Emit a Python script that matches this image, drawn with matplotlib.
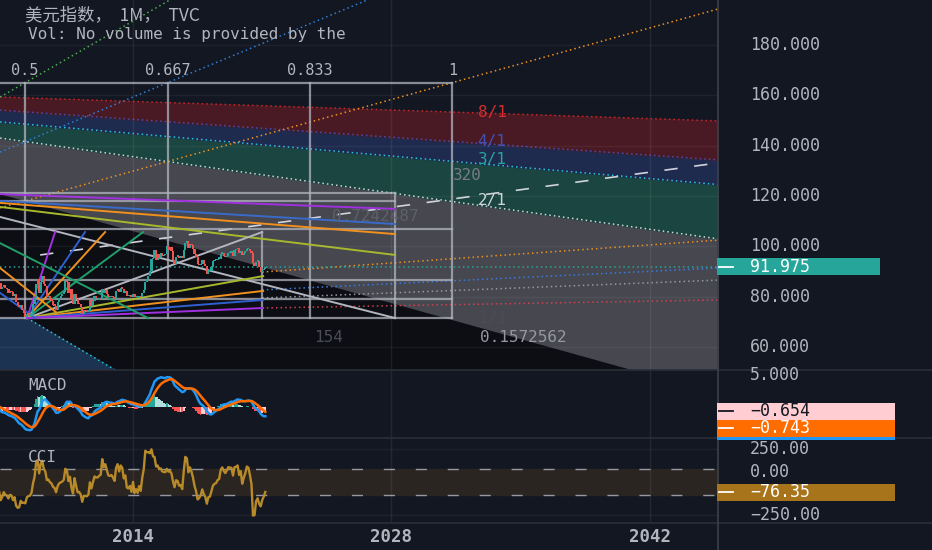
import numpy as np
import pandas as pd
import matplotlib
matplotlib.use('Agg')
import matplotlib.pyplot as plt
from matplotlib.patches import Rectangle
from matplotlib.lines import Line2D
from matplotlib.transforms import blended_transform_factory

# DXY monthly closes, Jan 2004 .. Mar 2021
dxy_close = [
    86.8, 88.0, 87.8, 89.9, 88.8, 88.9, 89.9, 89.2, 87.9, 85.4, 81.6, 80.9,   # 2004
    83.8, 82.3, 84.4, 84.7, 88.0, 89.6, 88.5, 87.6, 89.4, 89.9, 91.5, 91.2,   # 2005
    89.4, 90.7, 89.6, 86.5, 84.9, 85.4, 85.3, 85.1, 85.9, 85.3, 83.0, 83.7,   # 2006
    84.6, 83.5, 82.9, 81.5, 82.3, 81.9, 80.4, 80.9, 78.0, 76.7, 75.8, 76.7,   # 2007
    74.9, 73.6, 71.8, 73.2, 72.9, 72.4, 73.2, 77.1, 79.4, 85.0, 86.9, 81.3,   # 2008
    85.7, 88.4, 85.2, 84.2, 79.7, 80.2, 78.9, 78.4, 76.8, 76.5, 74.7, 77.9,   # 2009
    79.5, 80.3, 81.0, 81.8, 86.2, 85.9, 81.5, 83.1, 79.0, 77.0, 81.2, 79.0,   # 2010
    77.1, 76.9, 75.9, 73.0, 74.6, 74.3, 74.1, 74.2, 78.6, 76.2, 78.4, 80.2,   # 2011
    79.3, 78.8, 79.0, 78.9, 83.1, 81.6, 82.6, 81.2, 79.9, 79.9, 80.3, 79.8,   # 2012
    79.2, 82.1, 83.0, 81.9, 83.3, 83.2, 81.5, 82.1, 80.2, 80.2, 80.7, 80.0,   # 2013
    81.2, 79.7, 80.1, 79.5, 80.4, 79.8, 81.5, 82.8, 86.0, 87.0, 88.4, 90.3,   # 2014
    94.8, 95.3, 98.4, 94.6, 96.9, 95.5, 97.4, 96.0, 96.4, 97.0, 100.2, 98.7,  # 2015
    99.6, 98.2, 94.6, 93.1, 95.9, 96.1, 95.5, 96.0, 95.4, 98.5, 101.5, 102.2, # 2016
    99.5, 101.1, 100.4, 99.0, 97.0, 95.6, 92.9, 92.7, 93.1, 94.6, 93.1, 92.1, # 2017
    89.1, 90.6, 90.1, 91.8, 94.0, 94.5, 94.5, 95.1, 95.1, 97.1, 97.3, 96.2,   # 2018
    95.6, 96.2, 97.3, 97.5, 97.8, 96.1, 98.5, 98.9, 99.4, 97.4, 98.3, 96.4,   # 2019
    97.4, 98.1, 99.0, 99.0, 98.3, 97.4, 93.3, 92.1, 93.9, 94.0, 91.9, 89.9,   # 2020
    90.6, 90.9, 91.975,                                                       # 2021
]
last_price = 91.975
macd_tags = [-0.654, -0.743]
cci_tag = -76.35

price_ticks = [60, 80, 100, 120, 140, 160, 180]
year_ticks = [2014, 2028, 2042]
cci_ticks = [250, 0, -250]

# Gann fan (left year, right year) and prices at both ends
fan_x = [2006.8, 2045.7]
fan_8_1 = [159.4, 149.9]
fan_4_1 = [154.2, 134.4]
fan_3_1 = [149.5, 124.6]
fan_2_1 = [143.1, 103.0]
fan_1_1 = [121.2, 41.7]

# Gann box
box_years = [2008.15, 2015.9, 2023.6, 2031.3]
box_levels = ['0.5', '0.667', '0.833', '1']
box_hlines = [165.0, 106.9, 86.6, 79.1, 71.5]
box2_hlines = [121.2, 118.1]
box2_right = 2028.2

# fan lines from the upper left: colour -> (price at 2006.8, price at 2028.2)
left_fan = {'#a030e0': (120.8, 114.9), '#3a6bc8': (118.1, 108.9),
            '#f0901e': (117.3, 104.9), '#a8b82c': (115.7, 96.6),
            '#b2b5be': (111.7, 71.5)}
# fan lines from the 2008 low
low_pt = (2008.26, 71.5)
low_fan = [('#a030e0', 2009.78, 105.7), ('#2f5fd0', 2011.4, 105.7),
           ('#f0901e', 2012.49, 105.7), ('#1f9e6a', 2014.55, 105.7),
           ('#b2b5be', 2021.0, 105.7), ('#a8b82c', 2021.05, 88.2),
           ('#f0901e', 2021.05, 82.3), ('#2f5fd0', 2021.05, 78.7),
           ('#a030e0', 2021.05, 75.5)]
down_lines = [('#1f9e6a', (2006.8, 101.3), (2014.82, 71.5)),
              ('#f0901e', (2006.8, 91.4), (2009.89, 73.5)),
              ('#2f5fd0', (2006.8, 81.5), (2008.7, 71.5))]
rise_dotted = [('#4caf50', (2006.8, 159.4), (2016.0, 198.0)),
               ('#2f7fd8', (2006.8, 137.5), (2026.7, 198.0)),
               ('#f0901e', (2006.8, 115.3), (2045.7, 194.4))]
right_dotted = [('#f0901e', (2021.0, 89.8), (2045.7, 102.5)),
                ('#3a7be0', (2021.0, 82.7), (2045.7, 91.4)),
                ('#9598a1', (2021.0, 79.5), (2045.7, 86.6)),
                ('#d04050', (2021.0, 75.5), (2045.7, 78.7))]
dash_line = [(2008.97, 96.6), (2045.7, 133.2)]
blue_zone_x = [2006.8, 2008.26, 2013.03]
blue_zone_y = [71.5, 71.5, 50.9]

fan_labels = [('8/1', 153.4, '#d32f2f'), ('4/1', 141.9, '#3f51b5'),
              ('3/1', 134.4, '#26a69a'), ('2/1', 118.4, '#d1d4dc'),
              ('1/1', 71.5, '#4a4d57')]
misc_labels = [('320', 2032.1, 128.0, '#787b86'), ('0.7242487', 2027.1, 111.7, '#5d606b'),
               ('154', 2024.57, 63.6, '#4a4d57'), ('0.1572562', 2035.13, 63.6, '#9598a1')]

W, H = 932, 550
BG = '#131722'
MONO = 'DejaVu Sans Mono'
TXT = '#b2b5be'

fig = plt.figure(figsize=(W / 100, H / 100), dpi=100)
fig.patch.set_facecolor(BG)
ax = fig.add_axes([0, 180 / H, 718 / W, 370 / H])
ax_m = fig.add_axes([0, 112 / H, 718 / W, 68 / H])
ax_c = fig.add_axes([0, 27 / H, 718 / W, 85 / H])
XL = (2006.795, 2045.69)
for a in (ax, ax_m, ax_c):
    a.set_facecolor(BG)
    a.set_xlim(*XL)
    a.set_xticks([])
    a.set_yticks([])
    for s in a.spines.values():
        s.set_visible(False)
    for yr in year_ticks:
        a.axvline(yr, color='#ffffff', alpha=0.07, lw=1, zorder=4)
ax.set_ylim(50.855, 197.97)
ax_m.set_ylim(-4.6, 5.4)
ax_c.set_ylim(-311, 333)

# data prep
months = pd.date_range('2004-01-01', periods=len(dxy_close), freq='MS')
t = np.array(months.year + (months.month - 1) / 12.0)
close = pd.Series(dxy_close)
opn = close.shift(1).fillna(close.iloc[0])

# fan zones
ax.fill_between(fan_x, 0, fan_1_1, color='#0c0e13', zorder=0.5)
ax.fill_between(fan_x, fan_1_1, fan_2_1, color='#46474f', zorder=0.6)
ax.fill_between(fan_x, fan_2_1, fan_3_1, color='#1b4540', zorder=0.6)
ax.fill_between(fan_x, fan_3_1, fan_4_1, color='#1e2b4e', zorder=0.6)
ax.fill_between(fan_x, fan_4_1, fan_8_1, color='#4a1a24', zorder=0.6)
for ys, c in [(fan_2_1, '#d1d4dc'), (fan_3_1, '#26c6da'), (fan_4_1, '#3f51b5'), (fan_8_1, '#c62828')]:
    ax.plot(fan_x, ys, color=c, lw=1.1, ls=(0, (1, 2)), zorder=1)
ax.fill_between(blue_zone_x, 0, blue_zone_y, color='#1c3352', zorder=0.7)
ax.plot(blue_zone_x[1:], blue_zone_y[1:], color='#26c6da', lw=1.1, ls=(0, (1, 2)), zorder=1)

for v in price_ticks:
    ax.axhline(v, color='#ffffff', alpha=0.05, lw=1, zorder=4)

for c, p0, p1 in rise_dotted + right_dotted:
    ax.plot([p0[0], p1[0]], [p0[1], p1[1]], color=c, lw=1.1, ls=(0, (1, 2)), zorder=2)
ax.axhline(last_price, color='#26a69a', lw=1.1, ls=(0, (1, 2)), zorder=2)
ax.plot([dash_line[0][0], dash_line[1][0]], [dash_line[0][1], dash_line[1][1]],
        color='#d1d4dc', lw=1.2, ls=(0, (8, 10)), zorder=2)

# gann box
BOX = dict(color='#b2b5be', alpha=0.75, lw=1.6, zorder=3)
for x in box_years:
    ax.plot([x, x], [box_hlines[-1], box_hlines[0]], **BOX)
for y in box_hlines:
    ax.plot([fan_x[0], box_years[-1]], [y, y], **BOX)
for y in box2_hlines:
    ax.plot([fan_x[0], box2_right], [y, y], **BOX)
ax.plot([box2_right, box2_right], [box_hlines[-1], box2_hlines[0]], **BOX)
ax.plot([2021.0, 2021.0], [box_hlines[-1], 105.7], **BOX)
for x, lab in zip(box_years, box_levels):
    ax.text(x, 170.1, lab, color=TXT, fontsize=11, family=MONO, ha='center', va='center', zorder=6)

# fans
for c, (y0, y1) in left_fan.items():
    ax.plot([fan_x[0], box2_right], [y0, y1], color=c, lw=1.4, zorder=3)
for c, x1, y1 in low_fan:
    ax.plot([low_pt[0], x1], [low_pt[1], y1], color=c, lw=1.4, zorder=3)
for c, p0, p1 in down_lines:
    ax.plot([p0[0], p1[0]], [p0[1], p1[1]], color=c, lw=1.4, zorder=3)

# candles
up = close >= opn
ax.bar(t, np.maximum((close - opn).abs(), 0.5), bottom=np.minimum(close, opn), width=0.12,
       color=np.where(up, '#26a69a', '#ef5350'), zorder=5)

for lab, y, c in fan_labels:
    ax.text(2033.45, y, lab, color=c, fontsize=11.5, family=MONO, ha='center', va='center', zorder=6)
for lab, x, y, c in misc_labels:
    ax.text(x, y, lab, color=c, fontsize=11.5, family=MONO, ha='center', va='center', zorder=6)

ax.text(25 / 718, 1 - 15 / 370, '美元指数，  1M，  TVC', transform=ax.transAxes, color=TXT,
        fontsize=12.5, family=['Noto Sans CJK SC', MONO], va='center', zorder=7)
ax.text(28 / 718, 1 - 34 / 370, 'Vol: No volume is provided by the', transform=ax.transAxes,
        color=TXT, fontsize=11.5, family=MONO, va='center', zorder=7)

# MACD
ema12 = close.ewm(span=12, adjust=False).mean()
ema26 = close.ewm(span=26, adjust=False).mean()
macd = ema12 - ema26
signal = macd.ewm(span=9, adjust=False).mean()
hist = macd - signal
prev = hist.shift(1).fillna(0)
hcol = np.where(hist >= 0, np.where(hist > prev, '#26a69a', '#b2dfdb'),
                np.where(hist > prev, '#ffcdd2', '#ff5252'))
ax_m.bar(t, hist, width=1 / 12, color=hcol, zorder=2)
ax_m.plot(t, macd, color='#2196f3', lw=1.8, zorder=3)
ax_m.plot(t, signal, color='#ff6d00', lw=1.8, zorder=3)
ax_m.text(28 / 718, 1 - 15 / 68, 'MACD', transform=ax_m.transAxes, color=TXT,
          fontsize=11.5, family=MONO, va='center')

# CCI(20) on close
sma = close.rolling(20).mean()
mdev = close.rolling(20).apply(lambda v: np.mean(np.abs(v - v.mean())), raw=True)
cci = (close - sma) / (0.015 * mdev)
ax_c.fill_between(XL, -100, 100, color='#2a2521', zorder=1)
for lv in (100, -100):
    ax_c.axhline(lv, color='#9598a1', lw=1, ls=(0, (8, 15)), zorder=2)
for lv in (250, -250):
    ax_c.axhline(lv, color='#ffffff', alpha=0.05, lw=1)
ax_c.plot(t, cci, color='#b98a28', lw=1.7, zorder=3)
ax_c.text(28 / 718, 1 - 19 / 85, 'CCI', transform=ax_c.transAxes, color=TXT,
          fontsize=11.5, family=MONO, va='center')

# separators
for yy in (370, 438, 523):
    fig.add_artist(Line2D([0, 1], [1 - yy / H, 1 - yy / H], color='#2a2e39', lw=1.2))
fig.add_artist(Line2D([718 / W, 718 / W], [0, 1], color='#3b3f4a', lw=1.2))


def ypix(a, v):
    return a.transData.transform((XL[0], v))[1]


AX_FS = 12
for v in price_ticks:
    fig.text(750 / W, ypix(ax, v) / H, f'{v:.3f}', color=TXT, fontsize=AX_FS, family=MONO, va='center')
fig.text(750 / W, (ypix(ax_m, 5) - 2) / H, '5.000', color=TXT, fontsize=AX_FS, family=MONO, va='center')
for v in cci_ticks:
    lab = f'{v:.2f}'.replace('-', '−')
    yp = ypix(ax_c, v) + (10 if v == 0 else 0)
    fig.text(750 / W, yp / H, lab, color=TXT, fontsize=AX_FS, family=MONO, va='center')


def tag(a, v, text, fc, tc, dy=0, right=880, h=17):
    yp = ypix(a, v) + dy
    fig.add_artist(Rectangle((717 / W, (yp - h / 2) / H), (right - 717) / W, h / H,
                             transform=fig.transFigure, fc=fc, ec='none', zorder=8))
    fig.add_artist(Line2D([719 / W, 733 / W], [yp / H, yp / H], color=tc, lw=1.3, zorder=9))
    fig.text(750 / W, yp / H, text, color=tc, fontsize=AX_FS, family=MONO, va='center', zorder=9)


tag(ax, last_price, f'{last_price:.3f}', '#26a69a', '#ffffff')
tag(ax_m, macd_tags[0], f'{macd_tags[0]:.3f}'.replace('-', '−'), '#ffcdd2', '#131722', right=895)
fig.add_artist(Rectangle((717 / W, (ypix(ax_m, macd_tags[0]) - 29) / H), 178 / W, 3 / H,
                         transform=fig.transFigure, fc='#2196f3', ec='none', zorder=7))
tag(ax_m, macd_tags[1], f'{macd_tags[1]:.3f}'.replace('-', '−'), '#ff6d00', '#ffffff',
    dy=-(ypix(ax_m, macd_tags[1]) - ypix(ax_m, macd_tags[0])) - 17, right=895)
tag(ax_c, cci_tag, f'{cci_tag:.2f}'.replace('-', '−'), '#a8741b', '#ffffff', right=895)

xt = blended_transform_factory(ax_c.transData, fig.transFigure)
for yr in year_ticks:
    fig.text(yr, 13 / H, str(yr), transform=xt, color=TXT, fontsize=12.5, family=MONO,
             fontweight='bold', ha='center', va='center')

fig.savefig('out.png', dpi=100, facecolor=BG)
